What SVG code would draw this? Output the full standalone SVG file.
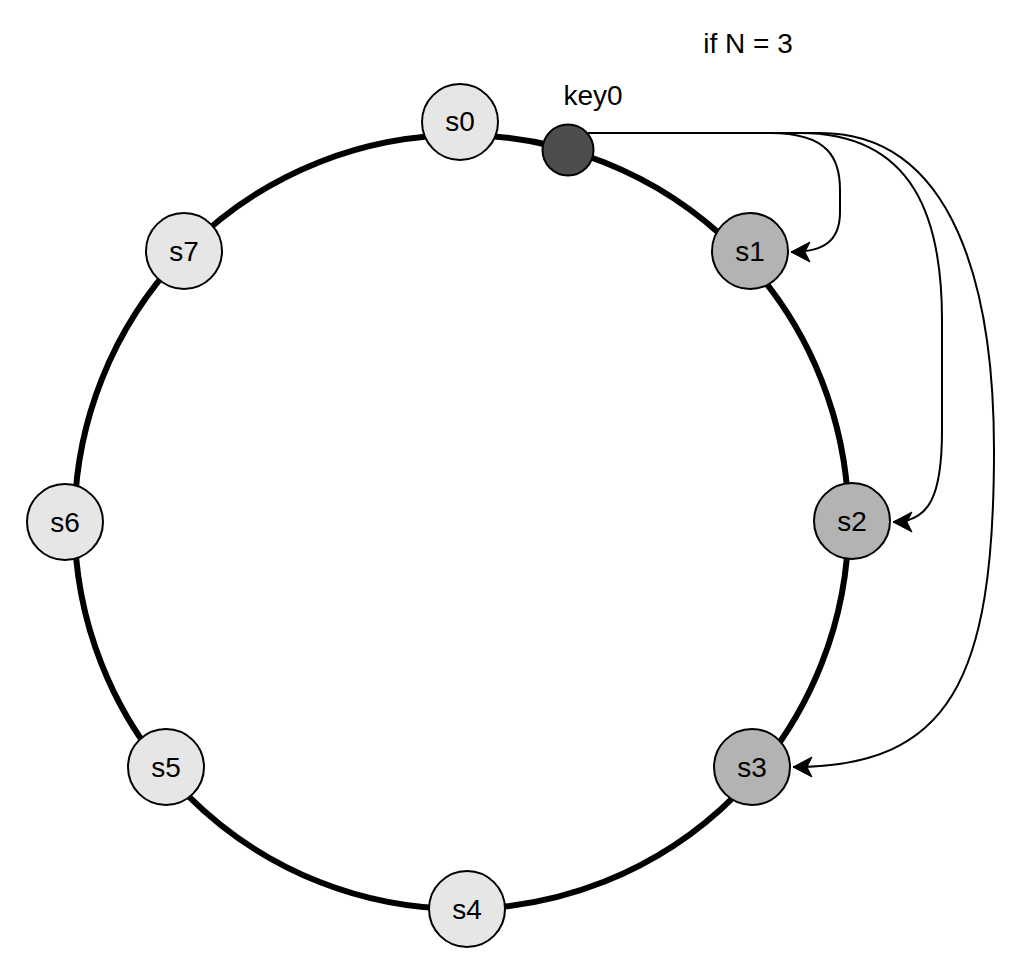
<svg xmlns="http://www.w3.org/2000/svg" width="1030" height="966" viewBox="0 0 1030 966">
  <style>
    .ring { fill: none; stroke: #000; stroke-width: 6; }
    .node { stroke: #000; stroke-width: 2; }
    .light { fill: #E6E6E6; }
    .dark { fill: #B3B3B3; }
    .key { fill: #4D4D4D; }
    .lbl { font-family: "Liberation Sans", Arial, sans-serif; font-size: 28px; fill: #000; text-anchor: middle; }
    .edge { fill: none; stroke: #000; stroke-width: 2; }
  </style>
  <defs>
    <marker id="arrow" markerUnits="userSpaceOnUse" markerWidth="22" markerHeight="22" viewBox="-20 -11 22 22" refX="0" refY="0" orient="auto">
      <path d="M0,0 L-19,-10 L-14,0 L-19,10 Z" fill="#000" stroke="#000" stroke-width="1"/>
    </marker>
  </defs>
  <rect x="0" y="0" width="1030" height="966" fill="#fff"/>
  <g id="ring">
    <circle class="ring" cx="461.5" cy="522" r="387"/>
  </g>
  <g id="connectors">
    <path class="edge" marker-end="url(#arrow)" d="M588,133 L770,133 C830,133 840,160 840,190 L840,212 C840,240 825,252 791,252"/>
    <path class="edge" marker-end="url(#arrow)" d="M588,133 L800,133 C915,133 942,220 942,320 L942,430 C942,495 930,522 893,522"/>
    <path class="edge" marker-end="url(#arrow)" d="M588,133 L820,133 C955,133 994,290 994,450 C994,680 950,767 793,767"/>
  </g>
  <g id="s0"><circle class="node light" cx="460" cy="122" r="38"/><text class="lbl" x="460" y="131">s0</text></g>
  <g id="key0"><circle class="node key" cx="568" cy="150" r="25.5"/><text class="lbl" x="593" y="105">key0</text></g>
  <g id="s1"><circle class="node dark" cx="750" cy="251" r="38"/><text class="lbl" x="750" y="261">s1</text></g>
  <g id="s2"><circle class="node dark" cx="852" cy="521" r="38"/><text class="lbl" x="852" y="531">s2</text></g>
  <g id="s3"><circle class="node dark" cx="752" cy="767" r="38"/><text class="lbl" x="752" y="777">s3</text></g>
  <g id="s4"><circle class="node light" cx="467" cy="909" r="38"/><text class="lbl" x="467" y="919">s4</text></g>
  <g id="s5"><circle class="node light" cx="166" cy="767" r="38"/><text class="lbl" x="166" y="777">s5</text></g>
  <g id="s6"><circle class="node light" cx="65" cy="522" r="38"/><text class="lbl" x="65" y="532">s6</text></g>
  <g id="s7"><circle class="node light" cx="184" cy="251" r="38"/><text class="lbl" x="184" y="261">s7</text></g>
  <g id="title"><text class="lbl" x="748" y="53">if N = 3</text></g>
</svg>
